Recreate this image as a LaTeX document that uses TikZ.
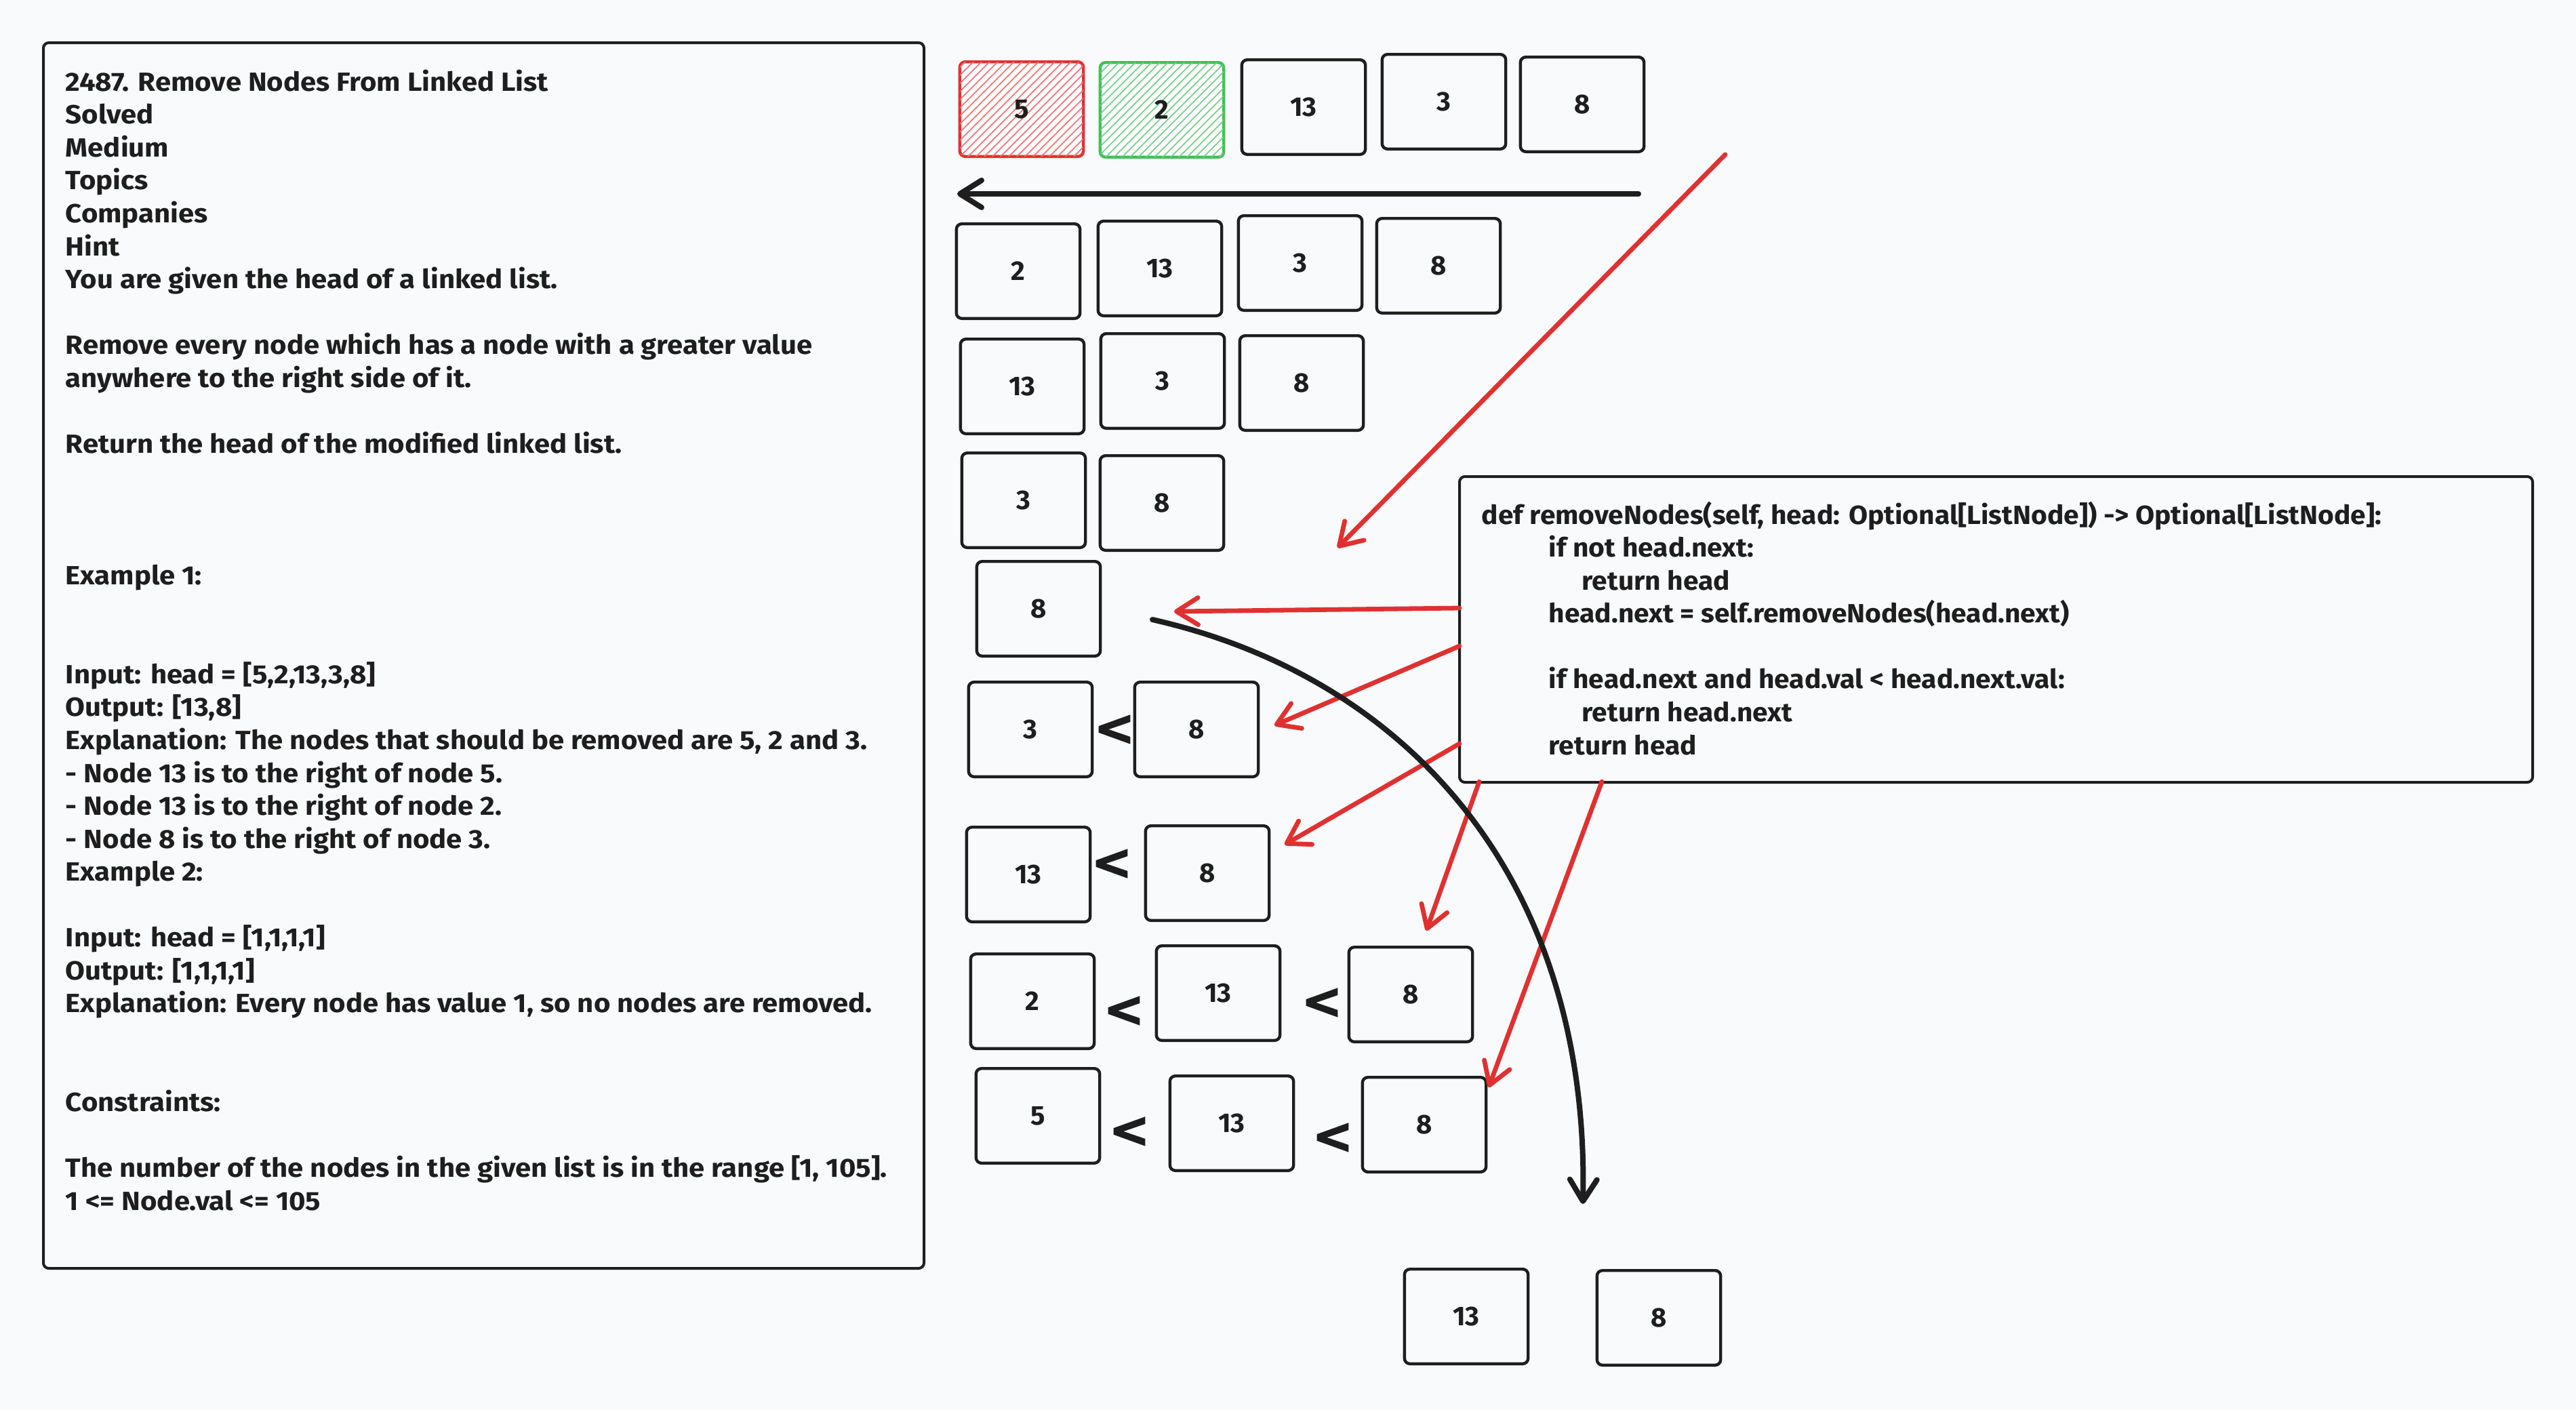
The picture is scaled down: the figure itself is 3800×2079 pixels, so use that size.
\documentclass[tikz,border=0pt]{standalone}
\usepackage{fontspec}
\setmainfont{Fira Sans}
\newfontfamily\probfam{Fira Sans}[FakeStretch=1.08]
\newfontfamily\codefam{Fira Sans}[FakeStretch=1.05]
\newfontfamily\ltfamily{DejaVu Sans}[BoldFeatures={FakeBold=2.5}]
\usetikzlibrary{arrows.meta,patterns}
\definecolor{bg}{RGB}{249,250,252}
\definecolor{ink}{RGB}{30,30,30}
\definecolor{exred}{RGB}{224,49,49}
\definecolor{exgreen}{RGB}{64,192,87}
\definecolor{hred}{RGB}{240,110,110}
\definecolor{hgreen}{RGB}{110,205,130}
\newcommand\probfont{\probfam\bfseries\fontsize{9.7}{12.14}\selectfont}
\newcommand\codefont{\codefam\bfseries\fontsize{9.7}{12.14}\selectfont}
\newcommand\numfont{\bfseries\fontsize{10}{12}\selectfont}
\newcommand\ltfont{\ltfamily\bfseries\fontsize{18}{18}\selectfont}
\begin{document}
\begin{tikzpicture}[x=0.25pt,y=-0.25pt,
  txt/.style={inner sep=0pt, align=left, text=ink},
  panel/.style={draw=ink, line width=1pt, rounded corners=2pt, inner sep=0pt},
  lbox/.style={draw=ink, line width=1.1pt, rounded corners=2pt, minimum width=45.6pt, minimum height=34.9pt, inner sep=0pt, font=\numfont, text=ink},
  redbox/.style={lbox, draw=exred, fill=white, postaction={pattern=north east lines, pattern color=hred}},
  greenbox/.style={lbox, draw=exgreen, fill=white, postaction={pattern=north east lines, pattern color=hgreen}},
  lt/.style={inner sep=0pt, font=\ltfont, text=ink},
  redarrow/.style={draw=exred, line width=1.7pt, line cap=round, -{Straight Barb[length=8pt,width=10pt,round]}},
  blackarrow/.style={draw=ink, line width=2pt, line cap=round, -{Straight Barb[length=8pt,width=10pt,round]}}
]
\useasboundingbox (0,0) rectangle (3800,2079);
\fill[bg] (0,0) rectangle (3800,2079);

% problem statement panel
\node[panel, minimum width=324.75pt, minimum height=452pt] (probbox) at (713.5,967) {};
\node[txt, font=\probfont, anchor=north west] (prob) at (96,102) {2487. Remove Nodes From Linked List\\
Solved\\
Medium\\
Topics\\
Companies\\
Hint\\
You are given the head of a linked list.\\
~\\
Remove every node which has a node with a greater value\\
anywhere to the right side of it.\\
~\\
Return the head of the modified linked list.\\
~\\
~\\
~\\
Example 1:\\
~\\
~\\
Input: head = [5,2,13,3,8]\\
Output: [13,8]\\
Explanation: The nodes that should be removed are 5, 2 and 3.\\
- Node 13 is to the right of node 5.\\
- Node 13 is to the right of node 2.\\
- Node 8 is to the right of node 3.\\
Example 2:\\
~\\
Input: head = [1,1,1,1]\\
Output: [1,1,1,1]\\
Explanation: Every node has value 1, so no nodes are removed.\\
~\\
~\\
Constraints:\\
~\\
The number of the nodes in the given list is in the range [1, 105].\\
1 <= Node.val <= 105};

% code panel
\node[panel, minimum width=395.75pt, minimum height=112.75pt] (codebox) at (2944.5,928.5) {};
\node[txt, font=\codefont, anchor=north west] (code) at (2185,739) {def removeNodes(self, head: Optional[ListNode]) -> Optional[ListNode]:\\
\hspace*{24.75pt}if not head.next:\\
\hspace*{37pt}return head\\
\hspace*{24.75pt}head.next = self.removeNodes(head.next)\\
~\\
\hspace*{24.75pt}if head.next and head.val < head.next.val:\\
\hspace*{37pt}return head.next\\
\hspace*{24.75pt}return head};

% row 0
\node[redbox] (r0a) at (1507,161) {5};
\node[greenbox] (r0b) at (1714,162) {2};
\node[lbox] (r0c) at (1923,158) {13};
\node[lbox] (r0d) at (2130,150) {3};
\node[lbox] (r0e) at (2334,154) {8};
% row 1
\node[lbox] (r1a) at (1502,400) {2};
\node[lbox] (r1b) at (1711,396) {13};
\node[lbox] (r1c) at (1918,388) {3};
\node[lbox] (r1d) at (2122,392) {8};
% row 2
\node[lbox] (r2a) at (1508,570) {13};
\node[lbox] (r2b) at (1715,562) {3};
\node[lbox] (r2c) at (1920,565) {8};
% row 3
\node[lbox] (r3a) at (1510,738) {3};
\node[lbox] (r3b) at (1714,742) {8};
% row 4
\node[lbox] (r4a) at (1532,898) {8};
% row 5
\node[lbox] (r5a) at (1520,1076) {3};
\node[lt] (l5a) at (1644,1077) {<};
\node[lbox] (r5b) at (1765,1076) {8};
% row 6
\node[lbox] (r6a) at (1517,1290) {13};
\node[lt] (l6a) at (1640,1275) {<};
\node[lbox] (r6b) at (1781,1288) {8};
% row 7
\node[lbox] (r7a) at (1523,1477) {2};
\node[lt] (l7a) at (1658,1492) {<};
\node[lbox] (r7b) at (1797,1465) {13};
\node[lt] (l7b) at (1950,1480) {<};
\node[lbox] (r7c) at (2081,1467) {8};
% row 8
\node[lbox] (r8a) at (1531,1646) {5};
\node[lt] (l8a) at (1666,1670) {<};
\node[lbox] (r8b) at (1817,1657) {13};
\node[lt] (l8b) at (1966,1679) {<};
\node[lbox] (r8c) at (2101,1659) {8};
% result
\node[lbox] (res1) at (2163,1942) {13};
\node[lbox] (res2) at (2447,1944) {8};

% coordinates for connector ends
\coordinate (topR) at (2417,286);
\coordinate (topL) at (1412,286);
\coordinate (diagS) at (2545,228);
\coordinate (diagE) at (1973,808);
\coordinate (c1) at (2153,897);
\coordinate (t1) at (1732,902);
\coordinate (c2) at (2153,953);
\coordinate (t2) at (1880,1070);
\coordinate (c3) at (2153,1097);
\coordinate (t3) at (1895,1246);
\coordinate (c4) at (2182,1153);
\coordinate (t4) at (2104,1373);
\coordinate (c5) at (2363,1153);
\coordinate (t5) at (2196,1604);
\coordinate (curveS) at (1700,914);
\coordinate (curveE) at (2335,1776);

% connectors
\draw[blackarrow] (topR) -- (topL);
\draw[redarrow] (diagS) -- (diagE);
\draw[redarrow] (c1) -- (t1);
\draw[redarrow] (c2) -- (t2);
\draw[redarrow] (c3) -- (t3);
\draw[redarrow] (c4) -- (t4);
\draw[redarrow] (c5) -- (t5);
\draw[blackarrow] (curveS) .. controls (2080,1000) and (2345,1300) .. (curveE);
\end{tikzpicture}
\end{document}
